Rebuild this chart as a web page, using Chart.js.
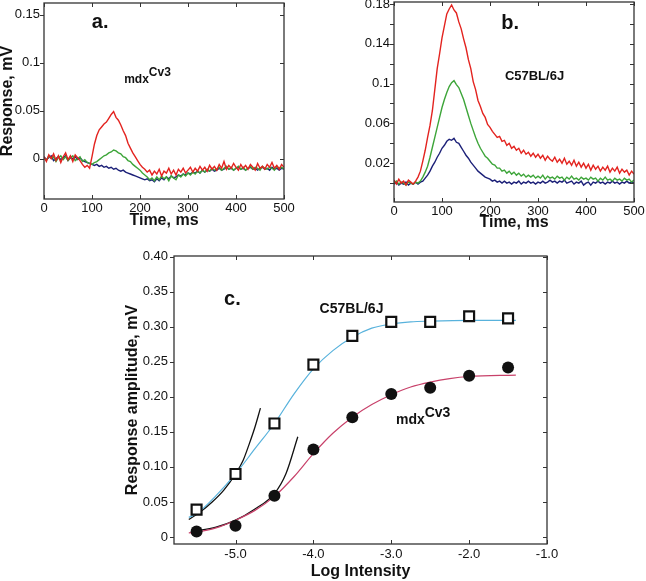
<!DOCTYPE html>
<html>
<head>
<meta charset="utf-8">
<script src="https://cdn.jsdelivr.net/npm/chart.js@4.4.1/dist/chart.umd.min.js"></script>
<style>
html, body { margin: 0; padding: 0; background: #fff; }
#wrap { position: relative; width: 646px; height: 581px; overflow: hidden; }
canvas { position: absolute; }
</style>
</head>
<body>
<div id="wrap">
  <canvas id="chartA" width="300" height="230" style="left:0;top:0"></canvas>
  <canvas id="chartB" width="300" height="232" style="left:346px;top:0"></canvas>
  <canvas id="chartC" width="546" height="346" style="left:100px;top:235px"></canvas>
</div>
<script>
// time base of the recordings, ms
const timeMs = [
  0,5,10,15,20,25,30,35,40,45,
  50,55,60,65,70,75,80,85,90,95,
  100,105,110,115,120,125,130,135,140,145,
  150,155,160,165,170,175,180,185,190,195,
  200,205,210,215,220,225,230,235,240,245,
  250,255,260,265,270,275,280,285,290,295,
  300,305,310,315,320,325,330,335,340,345,
  350,355,360,365,370,375,380,385,390,395,
  400,405,410,415,420,425,430,435,440,445,
  450,455,460,465,470,475,480,485,490,495,
  500
];

// panel a: mdxCv3 responses, mV
const redA = [
  0.002,-0.003,0.004,0.000,0.005,-0.002,0.003,-0.004,0.002,0.006,
  -0.001,0.003,-0.003,0.004,0.001,-0.002,-0.006,-0.009,-0.007,-0.010,
  0.002,0.015,0.024,0.030,0.033,0.036,0.038,0.042,0.046,0.049,
  0.043,0.040,0.035,0.029,0.024,0.016,0.011,0.006,0.002,-0.002,
  -0.006,-0.009,-0.011,-0.014,-0.012,-0.017,-0.013,-0.016,-0.011,-0.018,
  -0.013,-0.015,-0.010,-0.016,-0.012,-0.017,-0.011,-0.014,-0.010,-0.015,
  -0.012,-0.009,-0.014,-0.010,-0.013,-0.008,-0.012,-0.009,-0.013,-0.007,
  -0.011,-0.008,-0.012,-0.006,-0.010,-0.003,-0.011,-0.007,-0.010,-0.005,
  -0.009,-0.012,-0.006,-0.010,-0.007,-0.011,-0.006,-0.009,-0.012,-0.005,
  -0.010,-0.008,-0.011,-0.006,-0.009,-0.004,-0.010,-0.007,-0.011,-0.006,
  -0.009
];
const greenA = [
  0.001,-0.002,0.003,0.000,0.002,-0.003,0.001,0.003,-0.001,0.002,
  -0.002,0.001,0.003,-0.002,0.000,0.002,-0.003,-0.001,-0.004,-0.005,
  -0.006,-0.004,-0.003,-0.001,0.001,0.003,0.004,0.006,0.007,0.009,
  0.008,0.006,0.005,0.002,0.001,-0.002,-0.003,-0.006,-0.008,-0.010,
  -0.012,-0.015,-0.017,-0.019,-0.022,-0.020,-0.023,-0.019,-0.022,-0.018,
  -0.021,-0.019,-0.023,-0.018,-0.020,-0.022,-0.017,-0.019,-0.016,-0.018,
  -0.015,-0.017,-0.014,-0.016,-0.013,-0.015,-0.012,-0.014,-0.011,-0.013,
  -0.010,-0.012,-0.011,-0.009,-0.012,-0.010,-0.008,-0.011,-0.009,-0.012,
  -0.010,-0.008,-0.011,-0.009,-0.012,-0.010,-0.008,-0.011,-0.009,-0.010,
  -0.012,-0.008,-0.010,-0.011,-0.009,-0.010,-0.012,-0.008,-0.010,-0.009,
  -0.011
];
const blueA = [
  0.002,-0.001,0.001,0.003,-0.002,0.000,0.002,-0.001,0.001,0.003,
  -0.002,0.001,0.000,0.002,-0.001,0.001,-0.002,-0.003,-0.004,-0.005,
  -0.006,-0.007,-0.006,-0.008,-0.007,-0.009,-0.008,-0.010,-0.009,-0.011,
  -0.010,-0.012,-0.013,-0.012,-0.014,-0.015,-0.016,-0.017,-0.018,-0.019,
  -0.020,-0.021,-0.022,-0.021,-0.023,-0.022,-0.024,-0.021,-0.023,-0.020,
  -0.022,-0.019,-0.021,-0.018,-0.020,-0.019,-0.017,-0.018,-0.016,-0.017,
  -0.015,-0.016,-0.014,-0.015,-0.013,-0.015,-0.012,-0.014,-0.012,-0.013,
  -0.011,-0.013,-0.012,-0.010,-0.012,-0.011,-0.009,-0.011,-0.010,-0.012,
  -0.010,-0.009,-0.011,-0.010,-0.012,-0.010,-0.009,-0.011,-0.010,-0.012,
  -0.010,-0.009,-0.011,-0.010,-0.012,-0.009,-0.011,-0.010,-0.012,-0.010,
  -0.011
];

// panel b: C57BL/6J responses, mV
const redB = [
  0.003,-0.001,0.004,0.000,0.002,-0.002,0.003,0.001,-0.001,0.002,
  0.006,0.012,0.022,0.033,0.046,0.058,0.073,0.094,0.115,0.130,
  0.146,0.158,0.170,0.175,0.179,0.174,0.171,0.162,0.155,0.145,
  0.136,0.124,0.115,0.102,0.094,0.083,0.077,0.070,0.066,0.059,
  0.056,0.052,0.049,0.046,0.047,0.042,0.043,0.038,0.040,0.035,
  0.037,0.033,0.035,0.030,0.033,0.029,0.031,0.027,0.030,0.026,
  0.029,0.025,0.028,0.023,0.027,0.024,0.022,0.026,0.021,0.024,
  0.020,0.025,0.019,0.022,0.018,0.023,0.017,0.021,0.016,0.020,
  0.015,0.019,0.013,0.018,0.014,0.017,0.012,0.016,0.013,0.017,
  0.011,0.015,0.012,0.016,0.010,0.014,0.011,0.013,0.008,0.012,
  0.009
];
const greenB = [
  0.000,0.002,-0.001,0.001,0.000,-0.002,0.001,0.000,-0.001,0.001,
  0.000,0.002,0.006,0.011,0.017,0.026,0.036,0.046,0.056,0.066,
  0.076,0.084,0.091,0.097,0.101,0.103,0.099,0.096,0.090,0.084,
  0.076,0.068,0.060,0.053,0.046,0.040,0.035,0.031,0.027,0.025,
  0.022,0.019,0.018,0.015,0.015,0.012,0.013,0.010,0.012,0.009,
  0.011,0.008,0.010,0.007,0.009,0.006,0.008,0.006,0.008,0.005,
  0.007,0.005,0.008,0.004,0.007,0.005,0.006,0.004,0.007,0.005,
  0.006,0.003,0.006,0.004,0.007,0.004,0.005,0.003,0.006,0.004,
  0.005,0.003,0.006,0.004,0.005,0.002,0.005,0.003,0.006,0.003,
  0.004,0.002,0.005,0.003,0.004,0.002,0.005,0.003,0.004,0.001,
  0.003
];
const blueB = [
  -0.001,0.001,-0.002,0.000,-0.001,0.001,-0.002,0.000,-0.001,0.001,
  -0.001,0.001,0.002,0.005,0.008,0.012,0.017,0.021,0.026,0.030,
  0.035,0.038,0.042,0.044,0.043,0.045,0.041,0.040,0.036,0.032,
  0.028,0.025,0.021,0.018,0.015,0.012,0.010,0.008,0.006,0.005,
  0.004,0.002,0.003,0.001,0.002,0.000,0.002,0.000,0.001,-0.001,
  0.001,0.000,0.002,-0.001,0.001,0.000,0.002,0.000,0.001,-0.001,
  0.001,0.000,0.002,0.000,0.001,0.003,0.001,0.002,0.000,0.002,
  0.001,0.003,0.000,0.001,0.002,-0.001,0.001,0.000,0.002,-0.002,
  0.000,0.001,-0.002,0.001,0.000,0.002,0.000,0.001,-0.001,0.001,
  0.000,0.002,0.000,0.001,-0.001,0.001,0.000,0.002,0.000,0.001,
  0.000
];

// panel c: intensity-response
const logIntensity = [-5.5, -5.0, -4.5, -4.0, -3.5, -3.0, -2.5, -2.0, -1.5];
const c57Amp = [0.039, 0.090, 0.162, 0.246, 0.287, 0.307, 0.307, 0.315, 0.312];
const mdxAmp = [0.008, 0.016, 0.059, 0.125, 0.171, 0.204, 0.213, 0.230, 0.242];

const c57FitX = [-5.6, -5.5, -5.25, -5.0, -4.75, -4.5, -4.25, -4.0, -3.75, -3.5, -3.25, -3.0, -2.75, -2.5, -2.0, -1.4];
const c57FitY = [0.028, 0.033, 0.059, 0.090, 0.126, 0.162, 0.204, 0.240, 0.266, 0.285, 0.298, 0.304, 0.307, 0.308, 0.309, 0.309];
const mdxFitX = [-5.6, -5.5, -5.25, -5.0, -4.75, -4.5, -4.25, -4.0, -3.75, -3.5, -3.25, -3.0, -2.75, -2.5, -2.25, -2.0, -1.4];
const mdxFitY = [0.006, 0.007, 0.013, 0.024, 0.038, 0.058, 0.086, 0.119, 0.148, 0.171, 0.189, 0.203, 0.214, 0.221, 0.226, 0.229, 0.231];
const c57EarlyX = [-5.6, -5.45, -5.3, -5.15, -5.0, -4.9, -4.82, -4.75, -4.68];
const c57EarlyY = [0.025, 0.036, 0.050, 0.067, 0.090, 0.110, 0.134, 0.157, 0.184];
const mdxEarlyX = [-5.55, -5.25, -5.0, -4.75, -4.5, -4.35, -4.2];
const mdxEarlyY = [0.008, 0.014, 0.024, 0.040, 0.062, 0.091, 0.143];

// ticks and labels
const timeTicks = [0, 100, 200, 300, 400, 500];
const timeLabels = ['0', '100', '200', '300', '400', '500'];
const aYTicks = [0, 0.05, 0.1, 0.15];
const aYLabels = ['0', '0.05', '0.1', '0.15'];
const bYTicks = [0, 0.02, 0.04, 0.06, 0.08, 0.1, 0.12, 0.14, 0.16, 0.18];
const bYLabels = ['', '0.02', '', '0.06', '', '0.1', '', '0.14', '', '0.18'];
const cXTicks = [-5, -4, -3, -2, -1];
const cXLabels = ['-5.0', '-4.0', '-3.0', '-2.0', '-1.0'];
const cYTicks = [0, 0.05, 0.1, 0.15, 0.2, 0.25, 0.3, 0.35, 0.4];
const cYLabels = ['0', '0.05', '0.10', '0.15', '0.20', '0.25', '0.30', '0.35', '0.40'];

const RED = '#e3231f', GREEN = '#3da539', NAVY = '#1c2078';
const FONT = '"Liberation Sans", Arial, Helvetica, sans-serif';

const pts = (xs, ys) => xs.map((x, i) => ({ x: x, y: ys[i] }));

// box round the plot area with little tick marks
const framePlugin = {
  id: 'frame',
  afterDatasetsDraw(chart) {
    const { ctx, chartArea: a, scales: { x, y } } = chart;
    const len = 4;
    ctx.save();
    ctx.strokeStyle = '#333';
    ctx.lineWidth = 1.3;
    ctx.strokeRect(a.left, a.top, a.right - a.left, a.bottom - a.top);
    ctx.lineWidth = 1;
    ctx.beginPath();
    x.ticks.forEach(t => {
      const px = Math.round(x.getPixelForValue(t.value)) + 0.5;
      ctx.moveTo(px, a.bottom); ctx.lineTo(px, a.bottom - len);
      ctx.moveTo(px, a.top); ctx.lineTo(px, a.top + len);
    });
    y.ticks.forEach(t => {
      const py = Math.round(y.getPixelForValue(t.value)) + 0.5;
      ctx.moveTo(a.left - len, py); ctx.lineTo(a.left, py);
      ctx.moveTo(a.right, py); ctx.lineTo(a.right - len, py);
    });
    ctx.stroke();
    ctx.restore();
  }
};

// text notes placed in data coordinates
function notes(items) {
  return {
    id: 'notes',
    afterDatasetsDraw(chart) {
      const { ctx, scales: { x, y } } = chart;
      items.forEach(n => {
        const px = x.getPixelForValue(n.x), py = y.getPixelForValue(n.y);
        ctx.save();
        ctx.fillStyle = '#111';
        ctx.font = n.font;
        ctx.textAlign = n.align || 'left';
        ctx.textBaseline = 'alphabetic';
        ctx.fillText(n.text, px, py);
        if (n.sup) {
          const w = ctx.measureText(n.text).width;
          ctx.textAlign = 'left';
          ctx.fillText(n.sup, px + w, py - n.rise);
        }
        ctx.restore();
      });
    }
  };
}

function fixTicks(values) {
  return scale => { scale.ticks = values.map(v => ({ value: v })); };
}
function fixBox(size) {
  return scale => {
    if (scale.isHorizontal()) scale.height = size; else scale.width = size;
    scale.paddingLeft = 0; scale.paddingRight = 0;
    scale.paddingTop = 0; scale.paddingBottom = 0;
  };
}

function axis(o) {
  return {
    type: 'linear',
    min: o.min, max: o.max,
    afterBuildTicks: fixTicks(o.ticks),
    afterFit: fixBox(o.size),
    grid: { display: false, drawTicks: false },
    border: { display: false },
    ticks: {
      color: '#111', padding: o.pad, maxRotation: 0, autoSkip: false,
      font: { family: FONT, size: 13 },
      callback: (v, i) => o.labels[i]
    },
    title: o.title ? {
      display: true, text: o.title, color: '#111',
      font: { family: FONT, size: 16, weight: 'bold' },
      padding: { top: o.titlePad || 0, bottom: 0 }
    } : { display: false }
  };
}

function trace(vals, color) {
  return {
    data: pts(timeMs, vals), borderColor: color, borderWidth: 1.4,
    pointRadius: 0, tension: 0, fill: false
  };
}

const common = {
  responsive: false, animation: false, devicePixelRatio: 1,
  plugins: { legend: { display: false }, tooltip: { enabled: false } }
};

new Chart(document.getElementById('chartA'), {
  type: 'line',
  data: { datasets: [trace(redA, RED), trace(greenA, GREEN), trace(blueA, NAVY)] },
  options: {
    ...common,
    layout: { padding: { left: 0, right: 16, top: 3, bottom: 0 } },
    scales: {
      x: axis({ min: 0, max: 500, ticks: timeTicks, labels: timeLabels, size: 31, pad: 2, title: 'Time, ms' }),
      y: axis({ min: -0.042, max: 0.162, ticks: aYTicks, labels: aYLabels, size: 44, pad: 4, title: 'Response, mV', titlePad: -2 })
    }
  },
  plugins: [framePlugin, notes([
    { text: 'a.', x: 117, y: 0.1365, font: 'bold 20px ' + FONT, align: 'center' },
    { text: 'mdx', sup: 'Cv3', rise: 7, x: 167, y: 0.079, font: 'bold 12px ' + FONT }
  ])]
});

new Chart(document.getElementById('chartB'), {
  type: 'line',
  data: { datasets: [trace(redB, RED), trace(greenB, GREEN), trace(blueB, NAVY)] },
  options: {
    ...common,
    layout: { padding: { left: 0, right: 12, top: 2, bottom: 0 } },
    scales: {
      x: axis({ min: 0, max: 500, ticks: timeTicks, labels: timeLabels, size: 30, pad: 2, title: 'Time, ms' }),
      y: axis({ min: -0.019, max: 0.182, ticks: bYTicks, labels: bYLabels, size: 48, pad: 4 })
    }
  },
  plugins: [framePlugin, notes([
    { text: 'b.', x: 242, y: 0.1548, font: 'bold 20px ' + FONT, align: 'center' },
    { text: 'C57BL/6J', x: 231, y: 0.1035, font: 'bold 13px ' + FONT }
  ])]
});

new Chart(document.getElementById('chartC'), {
  type: 'scatter',
  data: {
    datasets: [
      { data: pts(logIntensity, c57Amp), pointStyle: 'rect', pointRadius: 7, borderWidth: 2.2,
        borderColor: '#111', backgroundColor: '#fff', showLine: false },
      { data: pts(logIntensity, mdxAmp), pointStyle: 'circle', pointRadius: 6, borderWidth: 0,
        borderColor: '#111', backgroundColor: '#111', showLine: false },
      { data: pts(c57FitX, c57FitY), showLine: true, pointRadius: 0, borderWidth: 1.2,
        borderColor: '#58b2dc', cubicInterpolationMode: 'monotone' },
      { data: pts(mdxFitX, mdxFitY), showLine: true, pointRadius: 0, borderWidth: 1.2,
        borderColor: '#c8416a', cubicInterpolationMode: 'monotone' },
      { data: pts(c57EarlyX, c57EarlyY), showLine: true, pointRadius: 0, borderWidth: 1.3,
        borderColor: '#111', cubicInterpolationMode: 'monotone' },
      { data: pts(mdxEarlyX, mdxEarlyY), showLine: true, pointRadius: 0, borderWidth: 1.3,
        borderColor: '#111', cubicInterpolationMode: 'monotone' }
    ]
  },
  options: {
    ...common,
    layout: { padding: { left: 0, right: 99, top: 21, bottom: 0 } },
    scales: {
      x: axis({ min: -5.79, max: -1.0, ticks: cXTicks, labels: cXLabels, size: 37, pad: 3, title: 'Log Intensity' }),
      y: axis({ min: -0.01, max: 0.401, ticks: cYTicks, labels: cYLabels, size: 74, pad: 6, title: 'Response amplitude, mV', titlePad: 23 })
    }
  },
  plugins: [framePlugin, notes([
    { text: 'c.', x: -5.04, y: 0.331, font: 'bold 20px ' + FONT, align: 'center' },
    { text: 'C57BL/6J', x: -3.92, y: 0.32, font: 'bold 14px ' + FONT },
    { text: 'mdx', sup: 'Cv3', rise: 7, x: -2.94, y: 0.161, font: 'bold 14px ' + FONT }
  ])]
});
</script>
</body>
</html>
